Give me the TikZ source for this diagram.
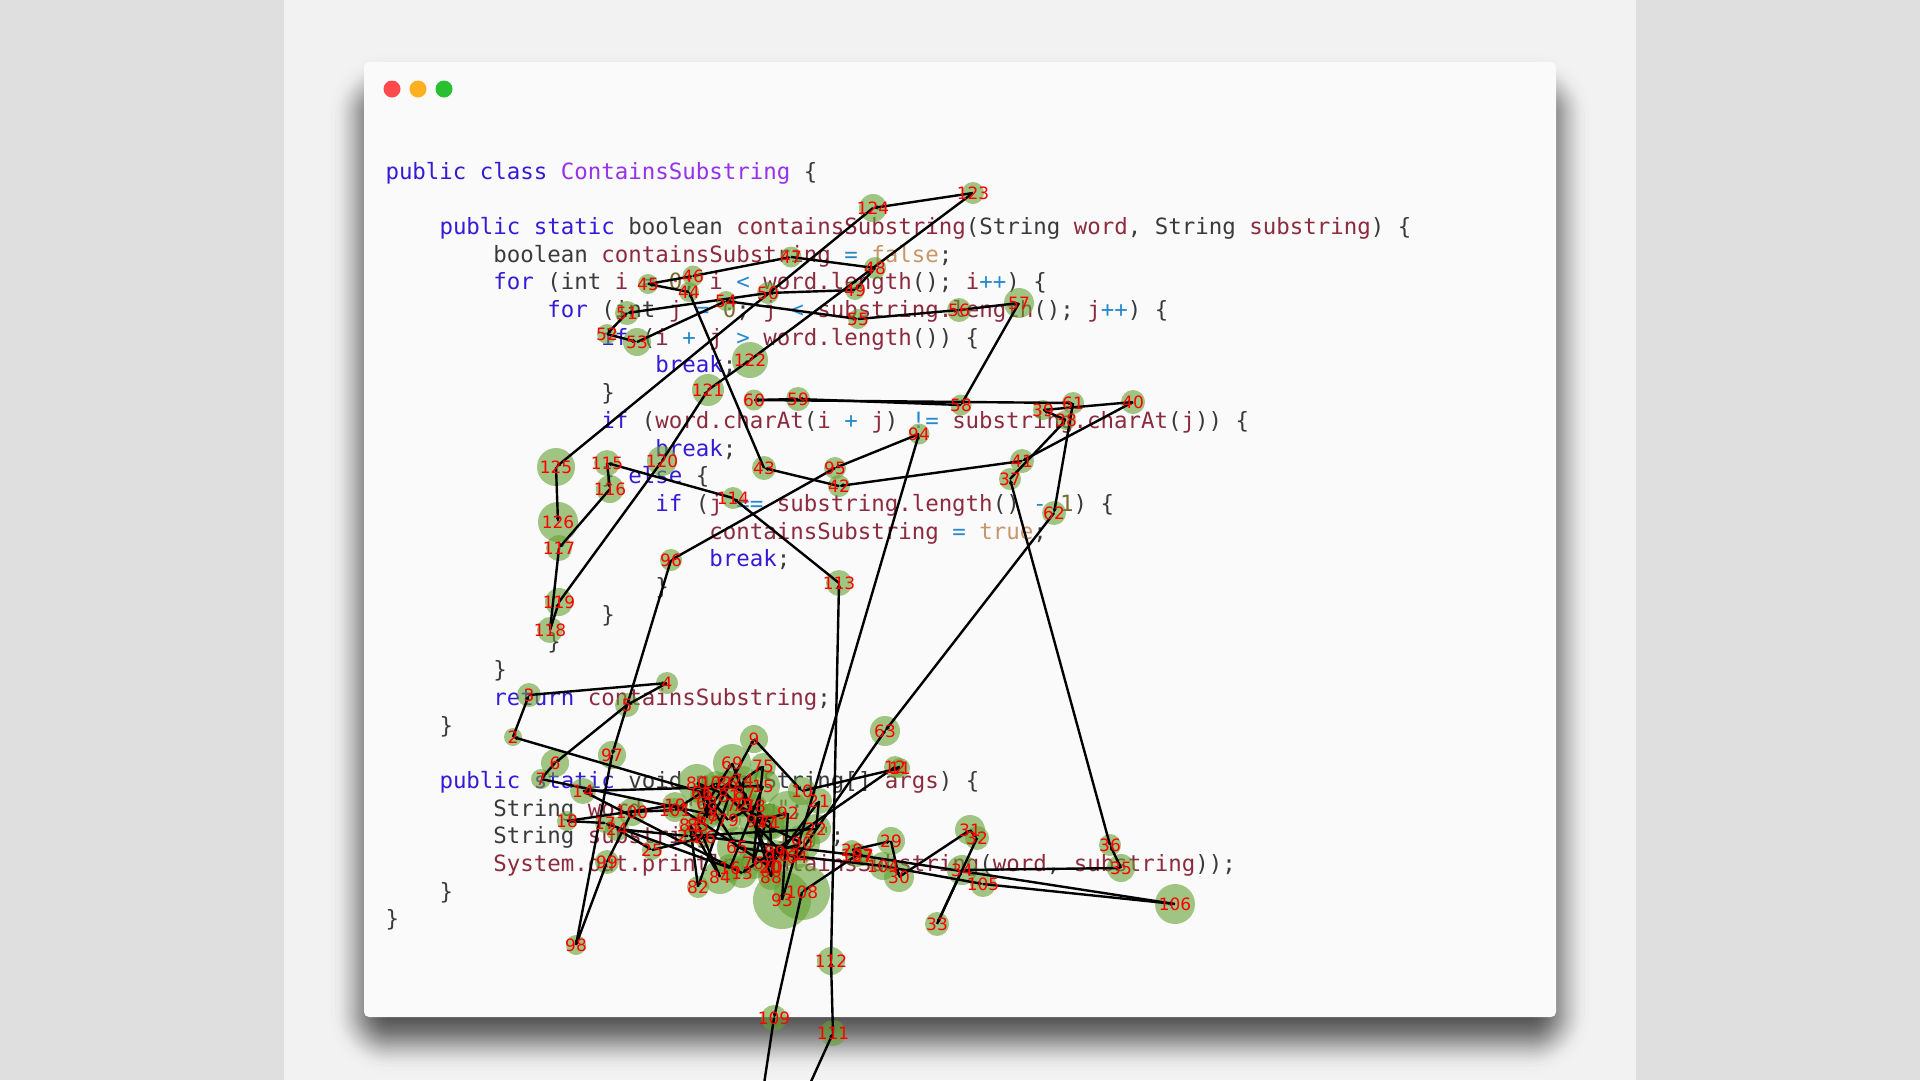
\documentclass[tikz,border=0pt]{standalone}
\usepackage{fontspec}
\usetikzlibrary{arrows.meta}
\setmonofont{DejaVu Sans Mono}
\newfontfamily\labfont{DejaVu Sans}
\definecolor{bgmid}{RGB}{242,242,242}
\definecolor{bgside}{RGB}{223,223,223}
\definecolor{winbg}{RGB}{250,250,250}
\definecolor{codegray}{RGB}{58,58,62}
\definecolor{ckw}{RGB}{52,28,214}
\definecolor{cfn}{RGB}{140,42,62}
\definecolor{cop}{RGB}{40,138,205}
\definecolor{clit}{RGB}{200,150,105}
\definecolor{cnum}{RGB}{125,105,50}
\definecolor{ccls}{RGB}{150,50,235}
\definecolor{dotgreen}{RGB}{100,160,50}
\newcommand\cK[1]{\textcolor{ckw}{#1}}
\newcommand\cF[1]{\textcolor{cfn}{#1}}
\newcommand\cO[1]{\textcolor{cop}{#1}}
\newcommand\cL[1]{\textcolor{clit}{#1}}
\newcommand\cN[1]{\textcolor{cnum}{#1}}
\newcommand\cC[1]{\textcolor{ccls}{#1}}
\tikzset{
  codeline/.style={anchor=base west,inner sep=0pt,outer sep=0pt,text=codegray,font=\ttfamily\fontsize{22.42pt}{27pt}\selectfont},
  blob/.style={circle,inner sep=0pt,outer sep=0pt,fill=dotgreen,fill opacity=0.6,draw=none},
  lamp/.style={circle,inner sep=0pt,minimum size=17pt,draw=none},
  numlabel/.style={inner sep=0pt,text=red,font=\labfont\fontsize{17pt}{17pt}\selectfont},
  link/.style={draw=black,line width=2.4pt,-{Stealth[length=5pt,width=4.5pt]},shorten >=0pt},
}
\begin{document}
\begin{tikzpicture}[x=1pt,y=-1pt]
\useasboundingbox (0,0) rectangle (1920,1080);
\clip (0,0) rectangle (1920,1080);
\fill[bgmid] (0,0) rectangle (1920,1080);
\fill[bgside] (0,0) rectangle (284,1080);
\fill[bgside] (1636,0) rectangle (1920,1080);
% shadow
\foreach \q/\al in {37/0.005,33.5/0.009,29.3/0.014,26.1/0.018,23.8/0.022,21.6/0.024,19.8/0.0248,18.2/0.0248,16.7/0.0248,15.3/0.0248,14/0.0248,12.7/0.0248,11.6/0.0248,10.4/0.0248,9.4/0.0248,8.3/0.0248,7.2/0.0248,6.2/0.0248,5.2/0.0248,4.3/0.0248,3.3/0.0248,2.3/0.0248,1.4/0.0248,0.5/0.0248}{
  \pgfmathsetmacro\dd{1.05*\q}
  \pgfmathsetmacro\ra{24+\dd}
  \pgfmathsetmacro\rb{max(4,24-\dd)}
  \fill[black,opacity=\al,rounded corners=\ra pt] (366-\dd,92-\dd) rectangle (1554+\dd,1036+\dd);
  \fill[black,opacity=0.0248,rounded corners=\rb pt] (366+\dd,92+\dd) rectangle (1554-\dd,1036-\dd);
}
% window
\fill[winbg,rounded corners=5pt] (364,62) rectangle (1556,1017);
\node[lamp,fill={rgb,255:red,255;green,75;blue,75}] (lampred) at (392,89) {};
\node[lamp,fill={rgb,255:red,255;green,176;blue,32}] (lampamber) at (418,89) {};
\node[lamp,fill={rgb,255:red,40;green,192;blue,48}] (lampgreen) at (444,89) {};
% code
\node[codeline] (c0) at (385.5,179) {\cK{public class} \cC{ContainsSubstring} \{};
\node[codeline] (c2) at (439.5,234.4) {\cK{public static} boolean \cF{containsSubstring}(String \cF{word}, String \cF{substring}) \{};
\node[codeline] (c3) at (493.4,262.1) {boolean \cF{containsSubstring} \cO{=} \cL{false};};
\node[codeline] (c4) at (493.4,289.8) {\cK{for} (int \cF{i} \cO{=} \cN{0}; \cF{i} \cO{<} \cF{word.length}(); \cF{i}\cO{++}) \{};
\node[codeline] (c5) at (547.4,317.5) {\cK{for} (int \cF{j} \cO{=} \cN{0}; \cF{j} \cO{<} \cF{substring.length}(); \cF{j}\cO{++}) \{};
\node[codeline] (c6) at (601.3,345.2) {\cK{if} (\cF{i} \cO{+} \cF{j} \cO{>} \cF{word.length}()) \{};
\node[codeline] (c7) at (655.3,372.9) {\cK{break};};
\node[codeline] (c8) at (601.3,400.6) {\}};
\node[codeline] (c9) at (601.3,428.3) {\cK{if} (\cF{word.charAt}(\cF{i} \cO{+} \cF{j}) \cO{!=} \cF{substring.charAt}(\cF{j})) \{};
\node[codeline] (c10) at (655.3,456) {\cK{break};};
\node[codeline] (c11) at (601.3,483.7) {\} \cK{else} \{};
\node[codeline] (c12) at (655.3,511.4) {\cK{if} (\cF{j} \cO{==} \cF{substring.length}() \cO{-} \cN{1}) \{};
\node[codeline] (c13) at (709.3,539.1) {\cF{containsSubstring} \cO{=} \cL{true};};
\node[codeline] (c14) at (709.3,566.8) {\cK{break};};
\node[codeline] (c15) at (655.3,594.5) {\}};
\node[codeline] (c16) at (601.3,622.2) {\}};
\node[codeline] (c17) at (547.4,649.9) {\}};
\node[codeline] (c18) at (493.4,677.6) {\}};
\node[codeline] (c19) at (493.4,705.3) {\cK{return} \cF{containsSubstring};};
\node[codeline] (c20) at (439.5,733) {\}};
\node[codeline] (c22) at (439.5,788.4) {\cK{public static} void \cF{main}(String[] \cF{args}) \{};
\node[codeline] (c23) at (493.4,816.1) {String \cF{word} \cO{=} \cN{"string"};};
\node[codeline] (c24) at (493.4,843.8) {String \cF{substring} \cO{=} \cN{"ring"};};
\node[codeline] (c25) at (493.4,871.5) {\cF{System.out.println}(\cF{containsSubstring}(\cF{word}, \cF{substring}));};
\node[codeline] (c26) at (439.5,899.2) {\}};
\node[codeline] (c27) at (385.5,926.9) {\}};
% blobs
\def\allnodes{1/708/794/9,2/513/737/9,3/529/695/12,4/667/683/11,5/627/705/12,6/555/763/14,7/541/779/10,8/713/815/10,9/754/739/14,10/802/791/14,11/900/768/10,12/895/767/11,13/742/873/15,14/583/791/13,15/763/786/17,16/730/868/14,17/605/823/10,18/567/821/10,19/675/805/13,20/770/867/14,21/819/801/13,22/816/829/15,23/688/836/10,24/617/829/12,25/652/850/10,26/705/837/11,27/863/856/10,28/852/850/10,29/891/841/14,30/899/877/15,31/970/830/15,32/977/838/12,33/937/924/12,34/962/870/15,35/1121/868/14,36/1110/845/11,37/1010/479/11,38/1066/420/10,39/1043/410/10,40/1133/402/12,41/1022/461/12,42/839/486/11,43/764/468/12,44/689/292/10,45/648/284/10,46/693/276/10.5,47/791/257/10.5,48/875/268/11,49/855/290/10,50/768/293/11,51/627/313/12,52/607/334/10,53/637/342/14,54/726/301/10,55/858/319/10,56/959/310/12,57/1019/303/15,58/961/405/10.5,59/798/399/12,60/754/400/10.5,61/1073/403/11,62/1054/513/12,63/885/731/15,64/797/857/12,65/737/847/20,66/702/793/12,67/707/818/12,68/707/803/18,69/732/763/19,70/772/867/10,71/770/822/18,72/737/805/12,73/743/805/12,74/743/780/14,75/763/766/13,76/753/863/16,77/766/822/18,78/755/806/12,79/728/820/13,80/697/783/19,81/729/796/12,82/698/887/11,83/690/825/11,84/720/877/17,85/698/825/11,86/727/783/12,87/745/793/12,88/771/877/13,89/775/852/12,90/802/843/18,91/757/821/18,92/788/813/22,93/782/900/29,94/919/434/10.5,95/835/468/11,96/671/560/11,97/612/755/14,98/576/945/10,99/607/862/12,100/632/812/14,101/675/810/12,102/716/783/12,103/784/855/12,104/883/866/14,105/983/884/13,106/1175/904/20,107/857/855/12,108/802/892/28,109/774/1018/13,110/741/1236/10,111/833/1033/13,112/831/961/14,113/839/583/13,114/733/498/11,115/607/463/13,116/610/489/14,117/559/548/13,118/550/630/13,119/559/602/14,120/662/461/15,121/708/390/16,122/750/360/18,123/973/193/11,124/873/208/14,125/556/467/19,126/558/522/20}
\foreach \i/\x/\y/\r in \allnodes {
  \pgfmathsetmacro\dm{2*\r}
  \node[blob,minimum size=\dm pt] (n\i) at (\x,\y) {};
}
% connectors, 1 to 126 in order
\foreach \a [count=\b from 2] in {1,...,125} {
  \draw[link] (n\a.center) -- (n\b.center);
}
% labels (110 lies below the page)
\foreach \i/\x/\y/\r in \allnodes {
  \ifnum\i=110\relax\else
  \node[numlabel] (l\i) at (n\i.center) {\i};
  \fi
}
\end{tikzpicture}
\end{document}
